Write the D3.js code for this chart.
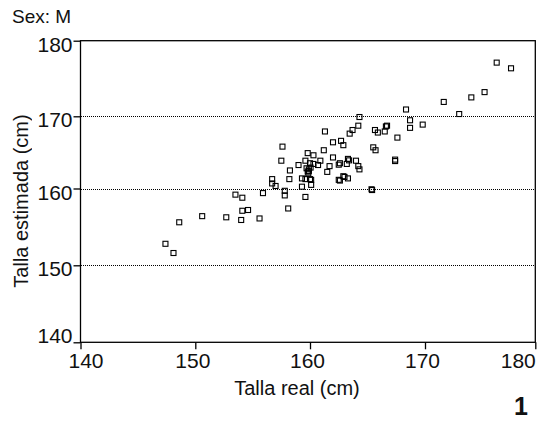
<!DOCTYPE html>
<html>
<head>
<meta charset="utf-8">
<script src="https://cdn.jsdelivr.net/npm/d3@7"></script>
<style>
  body { margin: 0; background: #fff; }
  text { font-family: "Liberation Sans", Arial, sans-serif; fill: #111; }
</style>
</head>
<body>
<div id="chart"></div>
<script>
// values (Talla real, Talla estimada)
const tallaReal = [
  147.4, 148.1, 148.6, 150.6, 152.7, 154.0, 155.6, 154.1, 154.6, 153.5,
  154.1, 155.9, 158.1, 157.8, 157.8, 159.6, 156.7, 156.7, 157.0, 158.2,
  159.3, 159.3, 159.6, 160.0, 160.1, 160.1, 162.6, 162.5, 162.9, 163.0,
  163.3, 165.35, 165.4, 157.5, 157.6, 158.25, 159.7, 159.9, 159.8, 159.9,
  159.0, 159.6, 160.0, 160.3, 160.7, 160.9, 159.8, 160.3, 162.0, 163.3,
  164.0, 167.4, 161.7, 162.5, 162.6, 163.2, 164.2, 164.3, 161.5, 161.2,
  161.3, 162.0, 162.7, 162.9, 163.45, 163.7, 164.2, 164.3, 165.5, 165.7,
  165.65, 165.9, 166.5, 166.6, 166.7, 167.6, 167.4, 168.35, 168.7, 168.7,
  169.8, 171.7, 173.1, 174.2, 175.4, 176.5, 177.8, 163.4, 159.85, 160.05
];
const tallaEstimada = [
  152.8, 151.6, 155.6, 156.4, 156.25, 155.9, 156.1, 157.1, 157.2, 159.2,
  158.8, 159.4, 157.4, 159.7, 159.1, 158.9, 161.3, 160.7, 160.35, 161.3,
  161.4, 160.25, 161.3, 161.3, 161.2, 160.5, 161.1, 161.2, 161.7, 161.6,
  161.4, 159.9, 159.8, 163.85, 165.8, 162.5, 162.8, 162.4, 162.35, 162.65,
  163.25, 163.85, 163.5, 163.4, 163.25, 163.85, 164.9, 164.6, 164.3, 164.1,
  163.85, 163.8, 163.1, 163.3, 163.5, 163.4, 163.1, 162.65, 162.3, 165.3,
  167.9, 166.4, 166.6, 166.0, 167.6, 168.1, 168.7, 169.9, 165.7, 165.3,
  168.1, 167.75, 167.9, 168.6, 168.7, 167.05, 164.0, 170.9, 169.45, 168.4,
  168.85, 171.9, 170.3, 172.5, 173.2, 177.1, 176.35, 163.9, 162.1, 162.9
];
const xTicks = [140, 150, 160, 170, 180];
const yTicks = [140, 150, 160, 170, 180];
const gridValues = [150, 160, 170];

const width = 538, height = 422;
const svg = d3.select('#chart').append('svg')
    .attr('width', width)
    .attr('height', height);

// the reference's tick spacing is slightly uneven, so the scales are piecewise
const x = d3.scaleLinear().domain(xTicks).range([80.5, 195.3, 310, 425, 535.3]);
const y = d3.scaleLinear().domain(yTicks).range([342.3, 265.3, 188.5, 116.3, 40.7]);

// dotted grid
svg.append('g').selectAll('line')
    .data(gridValues)
    .enter().append('line')
    .attr('x1', x(140)).attr('x2', x(180))
    .attr('y1', d => Math.round(y(d)) + 0.5).attr('y2', d => Math.round(y(d)) + 0.5)
    .attr('stroke', '#000')
    .attr('stroke-width', 1)
    .attr('stroke-dasharray', '1,1')
    .attr('shape-rendering', 'crispEdges');

// frame
svg.append('rect')
    .attr('x', x(140)).attr('y', y(180))
    .attr('width', x(180) - x(140))
    .attr('height', y(140) - y(180))
    .attr('fill', 'none')
    .attr('stroke', '#000')
    .attr('stroke-width', 1.3);

const xAxis = svg.append('g')
    .attr('transform', `translate(0,${y(140)})`)
    .call(d3.axisBottom(x).tickValues(xTicks).tickSize(7).tickPadding(4).tickFormat(d3.format('d')));
xAxis.select('.domain').remove();
xAxis.selectAll('line').attr('stroke', '#000').attr('stroke-width', 1.3);
xAxis.selectAll('text')
    .attr('font-size', 21)
    .style('font-family', '"Liberation Sans", Arial, sans-serif')
    .style('fill', '#111')
    .attr('dx', (d, i) => i === 0 ? 5 : (i === xTicks.length - 1 ? 0 : -3))
    .attr('text-anchor', (d, i) => i === xTicks.length - 1 ? 'end' : 'middle');

const yAxis = svg.append('g')
    .attr('transform', `translate(${x(140)},0)`)
    .call(d3.axisLeft(y).tickValues(yTicks).tickSize(7).tickPadding(1).tickFormat(d3.format('d')));
yAxis.select('.domain').remove();
yAxis.selectAll('line').attr('stroke', '#000').attr('stroke-width', 1.3);
yAxis.selectAll('text')
    .attr('font-size', 21)
    .style('font-family', '"Liberation Sans", Arial, sans-serif')
    .style('fill', '#111')
    .attr('dy', (d, i) => i === 0 ? '0em' : '0.5em');

// points
const pts = d3.zip(tallaReal, tallaEstimada);
svg.append('g').selectAll('rect')
    .data(pts)
    .enter().append('rect')
    .attr('x', d => x(d[0]) - 2.5)
    .attr('y', d => y(d[1]) - 2.5)
    .attr('width', 5)
    .attr('height', 5)
    .attr('fill', 'none')
    .attr('stroke', '#000')
    .attr('stroke-width', 1.1);

// titles
svg.append('text')
    .attr('x', 12).attr('y', 23)
    .attr('font-size', 19)
    .text('Sex: M');

svg.append('text')
    .attr('x', 297).attr('y', 395)
    .attr('text-anchor', 'middle')
    .attr('font-size', 20)
    .text('Talla real (cm)');

// rotated title in its own group with opacity < 1 so it gets grayscale antialiasing
svg.append('g')
    .attr('opacity', 0.99)
  .append('text')
    .attr('transform', 'translate(28,201) rotate(-90)')
    .attr('text-anchor', 'middle')
    .attr('font-size', 20)
    .style('fill', '#111')
    .text('Talla estimada (cm)');

svg.append('text')
    .attr('x', 528).attr('y', 415)
    .attr('text-anchor', 'end')
    .attr('font-size', 25)
    .attr('font-weight', 'bold')
    .text('1');
</script>
</body>
</html>
